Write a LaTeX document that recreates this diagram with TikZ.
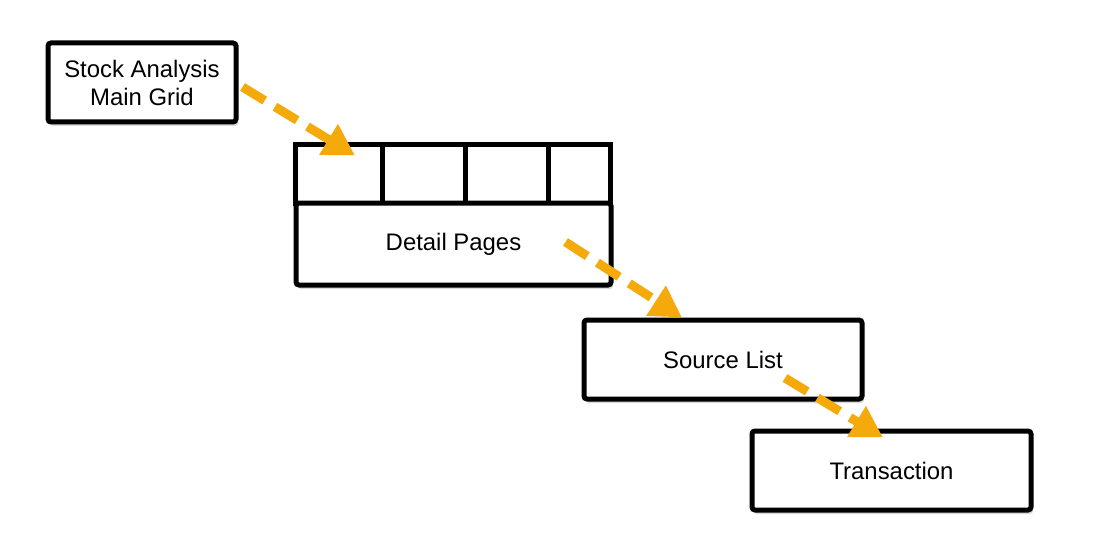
\documentclass[tikz,border=0pt]{standalone}
\usepackage{fontspec}
\setmainfont{Liberation Sans}
\usetikzlibrary{calc,positioning,arrows.meta,shadows}
\definecolor{arroworange}{RGB}{245,170,12}
\begin{document}
\begin{tikzpicture}[x=1pt,y=-1pt,
    box/.style={draw,line width=5pt,rounded corners=3pt,fill=white,inner sep=0pt,
      drop shadow={shadow xshift=2pt,shadow yshift=-4pt,opacity=0.3},
      font=\fontsize{23.9}{28}\selectfont,align=center},
    tab/.style={draw,line width=5pt,fill=white,inner sep=0pt,minimum height=58pt},
    flow/.style={arroworange,line width=9pt,dash pattern=on 26pt off 12pt,
      -{Triangle[length=31pt,width=34pt]}}]
  \useasboundingbox (0,0) rectangle (1098,559);

  \node[box,minimum width=188pt,minimum height=79pt] (grid) at (142,82.5) {Stock Analysis\\Main Grid};

  \foreach \i/\l/\r in {1/295/382,2/382/465,3/465/548,4/548/610}
    \node[tab,minimum width=\r pt-\l pt] (tab\i) at ({(\l+\r)/2},174) {};
  \node[box,minimum width=315pt,minimum height=82pt] (detail) at (453.5,244) {Detail Pages};

  \node[box,minimum width=278pt,minimum height=79pt] (source) at (723,359.5) {Source List};
  \node[box,minimum width=279pt,minimum height=79pt] (trans) at (891.5,470.5) {Transaction};

  \draw[flow] ($(grid.east)+(4,4.5)$) -- ($(tab1.north)+(16.5,13)$);
  \draw[flow] ($(detail.east)+(-48,-2)$) -- ($(source.north)+(-41,0)$);
  \draw[flow] ($(source.center)+(62,18.5)$) -- ($(trans.north)+(-8.5,9)$);
\end{tikzpicture}
\end{document}
